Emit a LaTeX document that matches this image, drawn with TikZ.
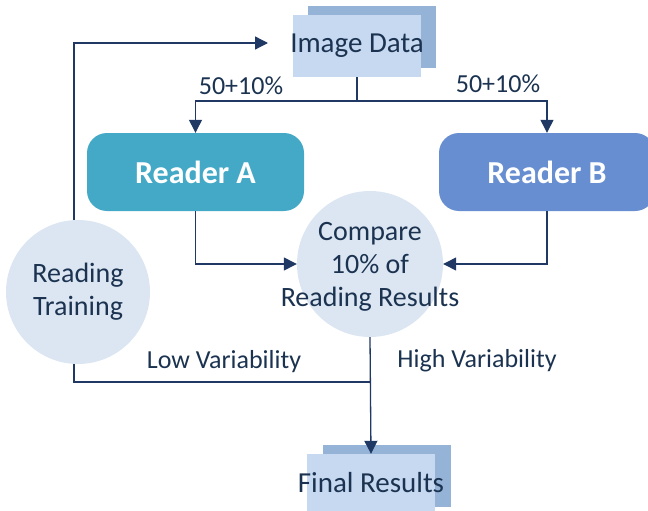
\documentclass[tikz,border=0pt]{standalone}
\usepackage{fontspec}
\setmainfont{Carlito}
\usetikzlibrary{arrows.meta}
\definecolor{txt}{HTML}{1B3350}
\definecolor{ln}{HTML}{1F3864}
\definecolor{frontc}{HTML}{C6D9F1}
\definecolor{backc}{HTML}{95B3D7}
\definecolor{rac}{HTML}{44A9C6}
\definecolor{rbc}{HTML}{678ED0}
\definecolor{circc}{HTML}{DCE6F2}
\tikzset{
  frontbox/.style={fill=frontc, draw=none, minimum width=128pt, minimum height=62pt, inner sep=0pt},
  boxtext/.style={text=txt, font=\fontsize{29}{33}\selectfont, inner sep=0pt},
  backbox/.style={fill=backc, draw=none, minimum width=128pt, minimum height=62pt, inner sep=0pt},
  reader/.style={draw=none, rounded corners=20pt, minimum height=78pt, text=white, font=\fontsize{32}{36}\selectfont\bfseries},
  circ/.style={circle, fill=circc, draw=none, inner sep=0pt},
  circtext/.style={text=txt, align=center, font=\fontsize{28}{33}\selectfont, inner sep=0pt},
  lbl/.style={text=txt, font=\fontsize{26}{30}\selectfont, inner sep=0pt},
  conn/.style={draw=ln, line width=1.3pt},
  arr/.style={conn, -{Triangle[length=13pt,width=13pt]}},
}
\begin{document}
\begin{tikzpicture}[x=1pt,y=-1pt]
\useasboundingbox (0,0) rectangle (648,511);
% Image Data
\node[backbox] (imgback) at (372,37) {};
\node[frontbox, label={[boxtext]center:Image Data}] (img) at (357,46) {};
% Readers
\node[reader, fill=rac, minimum width=217pt] (rA) at (195.5,172) {Reader A};
\node[reader, fill=rbc, minimum width=216pt] (rB) at (547,172) {Reader B};
% circles
\node[circ, minimum size=146pt, label={[circtext, yshift=-3pt]center:Compare\\10\% of\\Reading Results}] (cmp) at (370,264) {};
\node[circ, minimum size=144pt, label={[circtext]center:Reading\\Training}] (rt) at (78,292) {};
% Final results
\node[backbox] (frback) at (387,476) {};
\node[frontbox, minimum height=60pt, label={[boxtext, yshift=1pt]center:Final Results}] (fr) at (371,484) {};
% coordinates
\coordinate (split) at (357,101);
\coordinate (fb) at (268,43);
\coordinate (merge) at (371,382);
% connectors
\draw[conn] (img.south) -- (split);
\draw[arr] (split) -| (rA.north);
\draw[arr] (split) -| (rB.north);
\draw[arr] (rA.south) |- (cmp.west);
\draw[arr] (rB.south) |- (cmp.east);
\draw[arr] ([xshift=-4pt]rt.north) |- (fb);
\draw[conn] ([xshift=-4pt]rt.south) |- (merge);
\draw[arr] (cmp.south) -- (fr.north);
% labels
\node[lbl] (l1) at (241,86) {50+10\%};
\node[lbl] (l2) at (498,84) {50+10\%};
\node[lbl] (l3) at (224,362) {Low Variability};
\node[lbl] (l4) at (477,361) {High Variability};
\end{tikzpicture}
\end{document}
